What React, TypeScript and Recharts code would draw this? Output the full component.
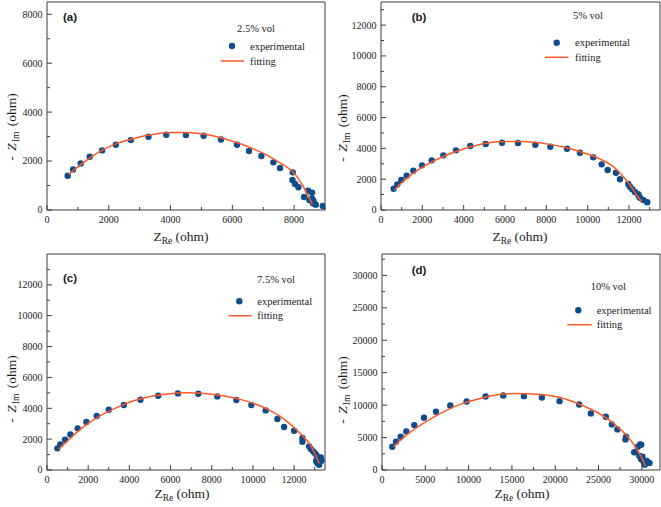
import React from 'react';
import { ScatterChart, Scatter, XAxis, YAxis } from 'recharts';

// ---------- data ----------
const aExpX = [670, 843, 1092, 1384, 1784, 2227, 2714, 3286, 3860, 4497, 5070, 5632, 6151, 6540, 6941, 7330, 7544, 7956, 7946, 8030, 8140, 8322, 8452, 8582, 8497, 8584, 8627, 8649, 8614, 8703, 8929];
const aExpY = [1401, 1660, 1905, 2177, 2435, 2667, 2857, 2993, 3075, 3061, 3034, 2884, 2667, 2408, 2204, 1947, 1714, 1539, 1224, 1061, 927, 531, 788, 706, 408, 463, 367, 272, 273, 218, 163];
const aFitX = [703, 1189, 1730, 2270, 2811, 3351, 4000, 4541, 5081, 5622, 6162, 6703, 7135, 7568, 7956, 8270, 8432, 8595];
const aFitY = [1456, 1946, 2408, 2721, 2925, 3075, 3170, 3170, 3102, 2952, 2748, 2490, 2231, 1905, 1560, 1020, 640, 230];

const bExpX = [613, 790, 984, 1242, 1565, 1984, 2452, 3016, 3629, 4323, 5065, 5855, 6629, 7468, 8194, 9000, 9627, 10271, 10677, 10968, 11369, 11563, 11964, 12046, 12158, 12288, 12448, 12468, 12530, 12690, 12883];
const bExpY = [1384, 1665, 1946, 2227, 2551, 2897, 3222, 3546, 3870, 4151, 4281, 4368, 4346, 4238, 4108, 3978, 3716, 3418, 2964, 2594, 2419, 1991, 1686, 1511, 1342, 1168, 1018, 930, 798, 649, 499];
const bFitX = [645, 1242, 2048, 2855, 3984, 4952, 5919, 6887, 7855, 8823, 9790, 10597, 11242, 11726, 12048, 12371, 12613];
const bFitY = [1297, 2054, 2811, 3373, 3957, 4303, 4454, 4454, 4324, 4086, 3719, 3308, 2811, 2162, 1622, 973, 541];

const cExpX = [503, 649, 876, 1135, 1492, 1913, 2416, 3000, 3730, 4540, 5400, 6357, 7346, 8270, 9194, 9924, 10621, 11189, 11513, 12000, 12405, 12405, 12729, 12810, 12924, 13021, 13102, 13135, 13216, 13297, 13329, 13070, 13216];
const cExpY = [1403, 1662, 1964, 2309, 2698, 3108, 3497, 3907, 4209, 4554, 4813, 4964, 4943, 4770, 4533, 4209, 3864, 3302, 2784, 2547, 2072, 1835, 1532, 1360, 1209, 1079, 928, 432, 496, 820, 604, 583, 345];
const cFitX = [568, 973, 1784, 2595, 3405, 4216, 5027, 5838, 6811, 7784, 8757, 9730, 10703, 11513, 12324, 12810, 13216];
const cFitY = [1360, 1856, 2806, 3518, 4058, 4490, 4770, 4921, 5008, 4943, 4770, 4446, 3950, 3302, 2331, 1576, 420];

const dExpX = [1192, 1615, 2154, 2808, 3731, 4846, 6231, 7885, 9769, 11962, 14000, 16385, 18462, 20500, 22769, 24115, 25845, 26538, 27184, 28188, 28115, 29261, 29538, 29803, 29923, 29722, 29919, 30077, 30231, 30346, 30577, 30885, 29115];
const dExpY = [3590, 4359, 5128, 5949, 6923, 8051, 8974, 9949, 10564, 11333, 11487, 11385, 11179, 10615, 10108, 8723, 8215, 7031, 6262, 5138, 4718, 2769, 3600, 3954, 3897, 2154, 1646, 2051, 1179, 821, 1385, 1077, 2718];
const dFitX = [1346, 2500, 4038, 5577, 7500, 9423, 11346, 13269, 15577, 17885, 20192, 22500, 24808, 26731, 28269, 29423, 30192, 30385];
const dFitY = [3590, 5026, 6564, 7846, 9231, 10308, 11026, 11600, 11800, 11692, 11282, 10300, 8900, 7200, 5282, 3231, 1300, 600];

// tick lists (major + minor)
const aXTicks = [0, 1000, 2000, 3000, 4000, 5000, 6000, 7000, 8000, 9000];
const aYTicks = [0, 1000, 2000, 3000, 4000, 5000, 6000, 7000, 8000];
const bXTicks = [0, 1000, 2000, 3000, 4000, 5000, 6000, 7000, 8000, 9000, 10000, 11000, 12000, 13000];
const bYTicks = [0, 1000, 2000, 3000, 4000, 5000, 6000, 7000, 8000, 9000, 10000, 11000, 12000, 13000];
const cXTicks = [0, 1000, 2000, 3000, 4000, 5000, 6000, 7000, 8000, 9000, 10000, 11000, 12000, 13000];
const cYTicks = [0, 1000, 2000, 3000, 4000, 5000, 6000, 7000, 8000, 9000, 10000, 11000, 12000, 13000];
const dXTicks = [0, 2500, 5000, 7500, 10000, 12500, 15000, 17500, 20000, 22500, 25000, 27500, 30000];
const dYTicks = [0, 2500, 5000, 7500, 10000, 12500, 15000, 17500, 20000, 22500, 25000, 27500, 30000, 32500];

const panelLabels = ['(a)', '(b)', '(c)', '(d)'];
const volLabels = ['2.5% vol', '5% vol', '7.5% vol', '10% vol'];
const seriesNames = ['experimental', 'fitting'];

// ---------- styles ----------
const SERIF = '"Liberation Serif", "Times New Roman", serif';
const SANS = '"Liberation Sans", Arial, sans-serif';
const DOT = '#0f4c8c';
const FIT = '#ff5a26';
const AXIS = '#3c3c3c';
const TXT = '#1a1a1a';

const zip = (xs: number[], ys: number[]) => xs.map((x, i) => ({ x, y: ys[i] }));

const makeXTick = (majorStep: number) => (props: any) => {
  const { x, y, payload } = props;
  const v = payload.value;
  const major = v % majorStep === 0;
  return (
    <g>
      <line x1={x} x2={x} y1={y} y2={y - (major ? 5 : 3)} stroke={AXIS} strokeWidth={1} />
      {major && (
        <text x={x} y={y + 13} textAnchor="middle" fontFamily={SERIF} fontSize={10} fill={TXT}>
          {v}
        </text>
      )}
    </g>
  );
};

const makeYTick = (majorStep: number) => (props: any) => {
  const { x, y, payload } = props;
  const v = payload.value;
  const major = v % majorStep === 0;
  return (
    <g>
      <line x1={x} x2={x + (major ? 5 : 3)} y1={y} y2={y} stroke={AXIS} strokeWidth={1} />
      {major && (
        <text x={x - 4.5} y={y + 3.4} textAnchor="end" fontFamily={SERIF} fontSize={10} fill={TXT}>
          {v}
        </text>
      )}
    </g>
  );
};

const DotShape = (p: any) => <circle cx={p.cx} cy={p.cy} r={3.2} fill={DOT} />;
const NoShape = () => <g />;

type PanelProps = {
  left: number;
  top: number;
  width: number;
  height: number;
  margin: { top: number; right: number; bottom: number; left: number };
  xDomain: [number, number];
  yDomain: [number, number];
  xTicks: number[];
  yTicks: number[];
  xMajor: number;
  yMajor: number;
  exp: { x: number; y: number }[];
  fit: { x: number; y: number }[];
  label: string;
  vol: string;
  lab: { x: number; y: number };
  volPos: { x: number; y: number };
  dot: { x: number; y: number };
  textX: number;
  line: { x1: number; x2: number; y: number };
  xTitle: { x: number; y: number };
  yTitle: { x: number; y: number };
};

function Panel(p: PanelProps) {
  return (
    <div style={{ position: 'absolute', left: p.left, top: p.top, width: p.width, height: p.height }}>
      <ScatterChart width={p.width} height={p.height} margin={p.margin}>
        <XAxis
          xAxisId={0}
          type="number"
          dataKey="x"
          domain={p.xDomain}
          ticks={p.xTicks}
          interval={0}
          tick={makeXTick(p.xMajor)}
          tickLine={false}
          tickSize={0}
          tickMargin={0}
          height={1}
          axisLine={{ stroke: AXIS, strokeWidth: 1 }}
          allowDataOverflow
        />
        <XAxis
          xAxisId="top"
          orientation="top"
          type="number"
          domain={p.xDomain}
          tick={false}
          tickLine={false}
          height={1}
          axisLine={{ stroke: AXIS, strokeWidth: 1 }}
          allowDataOverflow
        />
        <YAxis
          yAxisId={0}
          type="number"
          dataKey="y"
          domain={p.yDomain}
          ticks={p.yTicks}
          interval={0}
          tick={makeYTick(p.yMajor)}
          tickLine={false}
          tickSize={0}
          tickMargin={0}
          width={1}
          axisLine={{ stroke: AXIS, strokeWidth: 1 }}
          allowDataOverflow
        />
        <YAxis
          yAxisId="right"
          orientation="right"
          type="number"
          domain={p.yDomain}
          tick={false}
          tickLine={false}
          width={1}
          axisLine={{ stroke: AXIS, strokeWidth: 1 }}
          allowDataOverflow
        />
        <Scatter
          name={seriesNames[0]}
          data={p.exp}
          xAxisId={0}
          yAxisId={0}
          shape={DotShape}
          isAnimationActive={false}
        />
        <Scatter
          name={seriesNames[1]}
          data={p.fit}
          xAxisId={0}
          yAxisId={0}
          shape={NoShape}
          line={{ stroke: FIT, strokeWidth: 1.5 }}
          lineJointType="monotoneX"
          isAnimationActive={false}
        />
      </ScatterChart>
      <svg
        width={p.width}
        height={p.height}
        style={{ position: 'absolute', left: 0, top: 0, pointerEvents: 'none' }}
      >
        <text x={p.lab.x} y={p.lab.y} fontFamily={SANS} fontWeight="bold" fontSize={11.5} fill={TXT}>
          {p.label}
        </text>
        <text x={p.volPos.x} y={p.volPos.y} fontFamily={SERIF} fontSize={10.5} fill={TXT}>
          {p.vol}
        </text>
        <circle cx={p.dot.x} cy={p.dot.y} r={3.2} fill={DOT} />
        <text x={p.textX} y={p.dot.y + 3.6} fontFamily={SERIF} fontSize={10.5} fill={TXT}>
          {seriesNames[0]}
        </text>
        <line x1={p.line.x1} x2={p.line.x2} y1={p.line.y} y2={p.line.y} stroke={FIT} strokeWidth={1.5} />
        <text x={p.textX} y={p.line.y + 3.6} fontFamily={SERIF} fontSize={10.5} fill={TXT}>
          {seriesNames[1]}
        </text>
        <text x={p.xTitle.x} y={p.xTitle.y} textAnchor="middle" fontFamily={SERIF} fontSize={13.5} fill={TXT}>
          Z
          <tspan fontSize={9.5} dy={3}>Re</tspan>
          <tspan dy={-3}>{' (ohm)'}</tspan>
        </text>
        <text
          transform={`translate(${p.yTitle.x},${p.yTitle.y}) rotate(-90)`}
          textAnchor="middle"
          fontFamily={SERIF}
          fontSize={13.5}
          fill={TXT}
        >
          {'- '}
          <tspan fontStyle="italic" dx={2}>Z</tspan>
          <tspan fontSize={9.5} dy={3} dx={1}>Im</tspan>
          <tspan dy={-3} dx={2}>{' (ohm)'}</tspan>
        </text>
      </svg>
    </div>
  );
}

export default function App() {
  return (
    <div style={{ position: 'absolute', left: 0, top: 0, width: 661, height: 507, background: '#fff', overflow: 'hidden' }}>
      <Panel
        left={0}
        top={0}
        width={330}
        height={253}
        margin={{ top: 1, right: 4, bottom: 42, left: 46 }}
        xDomain={[0, 9000]}
        yDomain={[0, 8500]}
        xTicks={aXTicks}
        yTicks={aYTicks}
        xMajor={2000}
        yMajor={2000}
        exp={zip(aExpX, aExpY)}
        fit={zip(aFitX, aFitY)}
        label={panelLabels[0]}
        vol={volLabels[0]}
        lab={{ x: 63, y: 21 }}
        volPos={{ x: 237, y: 31.5 }}
        dot={{ x: 232, y: 46 }}
        textX={250}
        line={{ x1: 220.7, x2: 244, y: 61 }}
        xTitle={{ x: 181, y: 240.5 }}
        yTitle={{ x: 16, y: 127 }}
      />
      <Panel
        left={330}
        top={0}
        width={331}
        height={253}
        margin={{ top: 1, right: 0, bottom: 42, left: 50 }}
        xDomain={[0, 13500]}
        yDomain={[0, 13500]}
        xTicks={bXTicks}
        yTicks={bYTicks}
        xMajor={2000}
        yMajor={2000}
        exp={zip(bExpX, bExpY)}
        fit={zip(bFitX, bFitY)}
        label={panelLabels[1]}
        vol={volLabels[1]}
        lab={{ x: 81.7, y: 21 }}
        volPos={{ x: 243, y: 18.5 }}
        dot={{ x: 226.7, y: 42.7 }}
        textX={245}
        line={{ x1: 215, x2: 238.3, y: 57.3 }}
        xTitle={{ x: 190, y: 240.5 }}
        yTitle={{ x: 16.5, y: 128 }}
      />
      <Panel
        left={0}
        top={253}
        width={330}
        height={254}
        margin={{ top: 0, right: 4, bottom: 36, left: 46 }}
        xDomain={[0, 13500]}
        yDomain={[0, 14000]}
        xTicks={cXTicks}
        yTicks={cYTicks}
        xMajor={2000}
        yMajor={2000}
        exp={zip(cExpX, cExpY)}
        fit={zip(cFitX, cFitY)}
        label={panelLabels[2]}
        vol={volLabels[2]}
        lab={{ x: 63, y: 29 }}
        volPos={{ x: 257, y: 30 }}
        dot={{ x: 239.3, y: 48.3 }}
        textX={257.3}
        line={{ x1: 228.7, x2: 251.7, y: 62.7 }}
        xTitle={{ x: 182, y: 245 }}
        yTitle={{ x: 16, y: 136 }}
      />
      <Panel
        left={330}
        top={253}
        width={331}
        height={254}
        margin={{ top: 0, right: 0, bottom: 36, left: 51 }}
        xDomain={[0, 32100]}
        yDomain={[0, 33300]}
        xTicks={dXTicks}
        yTicks={dYTicks}
        xMajor={5000}
        yMajor={5000}
        exp={zip(dExpX, dExpY)}
        fit={zip(dFitX, dFitY)}
        label={panelLabels[3]}
        vol={volLabels[3]}
        lab={{ x: 81.7, y: 21 }}
        volPos={{ x: 260.7, y: 37 }}
        dot={{ x: 248.3, y: 57.3 }}
        textX={266.7}
        line={{ x1: 237.3, x2: 261.7, y: 71.7 }}
        xTitle={{ x: 192, y: 245 }}
        yTitle={{ x: 16.5, y: 137 }}
      />
    </div>
  );
}
